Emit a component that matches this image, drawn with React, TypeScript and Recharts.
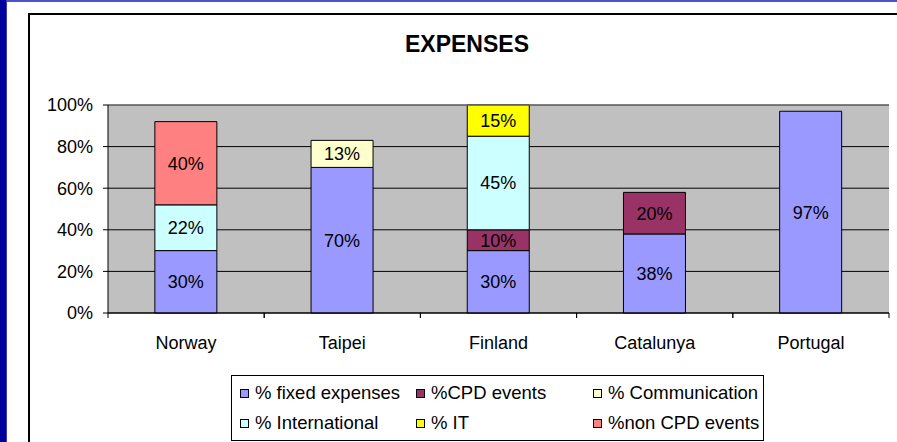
import {
  BarChart,
  Bar,
  XAxis,
  YAxis,
  CartesianGrid,
  LabelList,
  ReferenceLine,
} from "recharts";

const CATEGORIES = ["Norway", "Taipei", "Finland", "Catalunya", "Portugal"];
const FIXED = [30, 70, 30, 38, 97];
const CPD_EVENTS = [null, null, 10, 20, null];
const COMMUNICATION = [null, 13, null, null, null];
const INTERNATIONAL = [22, null, 45, null, null];
const IT = [null, null, 15, null, null];
const NON_CPD = [40, null, null, null, null];
const Y_TICKS = [0, 20, 40, 60, 80, 100];

// stacking order bottom -> top, also legend order (row-major, 3 per row)
const SERIES = [
  { key: "fixed", name: "% fixed expenses", color: "#9999FF", values: FIXED },
  { key: "cpd", name: "%CPD events", color: "#993366", values: CPD_EVENTS },
  { key: "comm", name: "% Communication", color: "#FFFFCC", values: COMMUNICATION },
  { key: "intl", name: "% International", color: "#CCFFFF", values: INTERNATIONAL },
  { key: "it", name: "% IT", color: "#FFFF00", values: IT },
  { key: "noncpd", name: "%non CPD events", color: "#FF8080", values: NON_CPD },
];

const data = CATEGORIES.map((name, i) => {
  const row: Record<string, string | number | null> = { name };
  SERIES.forEach((s) => {
    row[s.key] = s.values[i];
  });
  return row;
});

const FONT = "'Liberation Sans', Arial, sans-serif";

const CategoryTick = (props: any) => {
  const { x, y, payload } = props;
  const half = payload.offset ?? 0;
  return (
    <g>
      <line x1={x - half} x2={x - half} y1={y} y2={y + 5} stroke="#000" />
      <line x1={x + half} x2={x + half} y1={y} y2={y + 5} stroke="#000" />
      <text x={x} y={y + 36} textAnchor="middle" fontSize={18} fill="#000" fontFamily={FONT}>
        {payload.value}
      </text>
    </g>
  );
};

const LEGEND_COLS = [240, 416, 593];
const LEGEND_ROWS = [393, 423];

export default function App() {
  return (
    <div
      style={{
        position: "absolute",
        left: 0,
        top: 0,
        width: 897,
        height: 442,
        background: "#fff",
        overflow: "hidden",
        fontFamily: FONT,
      }}
    >
      <div style={{ position: "absolute", left: 0, top: 0, width: 897, height: 2, background: "#5050c8" }} />
      <div style={{ position: "absolute", left: 0, top: 0, width: 6, height: 442, background: "#00009a" }} />
      <div style={{ position: "absolute", left: 6, top: 0, width: 1, height: 442, background: "#3c3cb4" }} />
      <div
        style={{
          position: "absolute",
          left: 28,
          top: 13,
          width: 1000,
          height: 1000,
          borderLeft: "2px solid #000",
          borderTop: "2px solid #000",
        }}
      />
      <div
        style={{
          position: "absolute",
          left: 0,
          top: 31,
          width: 934,
          textAlign: "center",
          fontSize: 23,
          fontWeight: "bold",
          color: "#000",
        }}
      >
        EXPENSES
      </div>

      <div style={{ position: "absolute", left: 0, top: 0 }}>
        <BarChart
          width={897}
          height={442}
          data={data}
          margin={{ top: 105, right: 8, left: 0, bottom: 99 }}
          barCategoryGap="30%"
        >
          <CartesianGrid vertical={false} stroke="#000" fill="#c0c0c0" fillOpacity={1} />
          <XAxis
            dataKey="name"
            height={30}
            tickLine={false}
            tickSize={0}
            tickMargin={0}
            axisLine={{ stroke: "#000" }}
            tick={<CategoryTick />}
            interval={0}
          />
          <YAxis
            width={108}
            domain={[0, 100]}
            ticks={Y_TICKS}
            tickFormatter={(v: number) => `${v}%`}
            tickSize={5}
            tickMargin={10}
            axisLine={{ stroke: "#000" }}
            tickLine={{ stroke: "#000" }}
            tick={{ fill: "#000", fontSize: 18, fontFamily: FONT }}
          />
          <YAxis
            yAxisId="edge"
            orientation="right"
            width={0}
            domain={[0, 100]}
            tick={false}
            tickLine={false}
            axisLine={{ stroke: "#808080" }}
          />
          <ReferenceLine y={100} stroke="#808080" />
          {SERIES.map((s) => (
            <Bar
              key={s.key}
              dataKey={s.key}
              name={s.name}
              stackId="a"
              fill={s.color}
              stroke="#000"
              strokeWidth={1}
              isAnimationActive={false}
            >
              <LabelList
                dataKey={s.key}
                position="center"
                formatter={(v: any) => (v == null ? "" : `${v}%`)}
                fill="#000"
                fontSize={18}
                fontFamily={FONT}
              />
            </Bar>
          ))}
        </BarChart>
      </div>

      <div
        style={{
          position: "absolute",
          left: 231,
          top: 375,
          width: 531,
          height: 64,
          border: "1px solid #000",
          background: "#fff",
        }}
      />
      {SERIES.map((s, i) => {
        const cx = LEGEND_COLS[i % 3];
        const cy = LEGEND_ROWS[Math.floor(i / 3)];
        return (
          <div
            key={s.key}
            style={{
              position: "absolute",
              left: cx,
              top: cy - 11,
              height: 22,
              display: "flex",
              alignItems: "center",
              whiteSpace: "nowrap",
              fontSize: 18.5,
              color: "#000",
            }}
          >
            <span
              style={{
                display: "inline-block",
                width: 7,
                height: 7,
                border: "1px solid #000",
                background: s.color,
                marginRight: 6,
              }}
            />
            {s.name}
          </div>
        );
      })}
    </div>
  );
}
